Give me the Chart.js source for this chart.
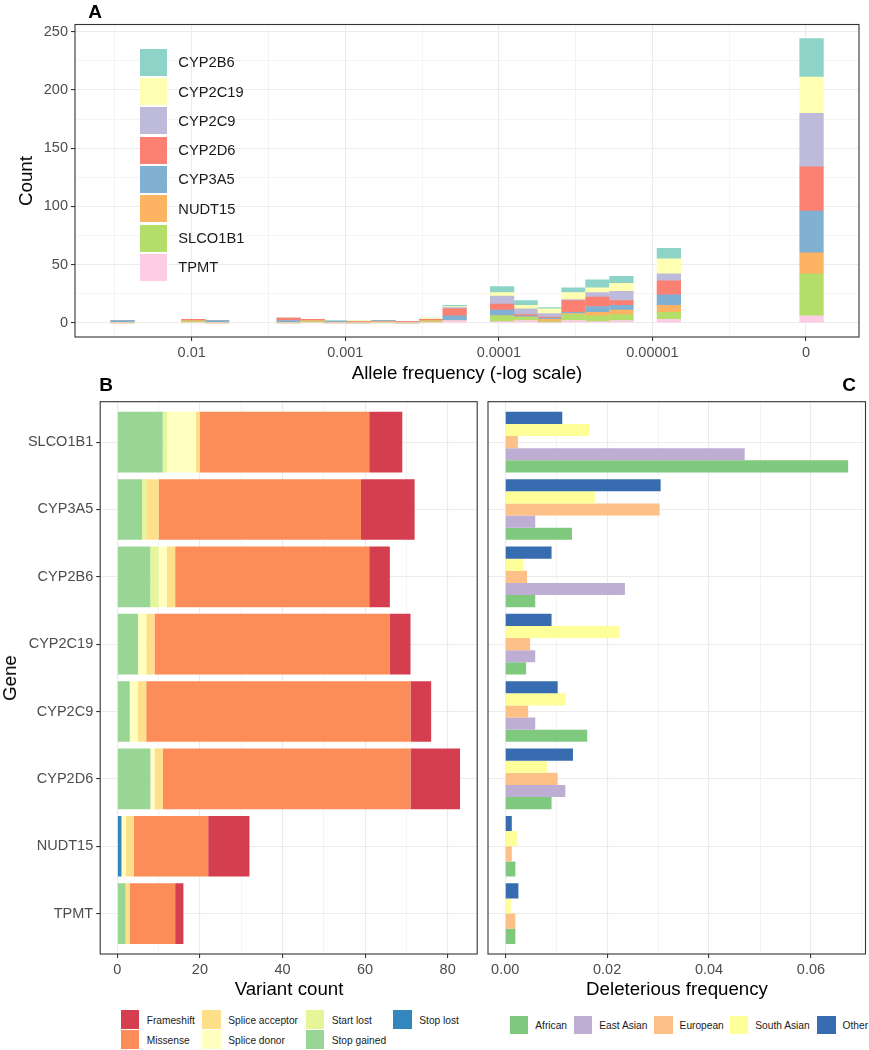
<!DOCTYPE html>
<html>
<head>
<meta charset="utf-8">
<script src="https://cdn.jsdelivr.net/npm/chart.js@4.4.1/dist/chart.umd.min.js"></script>
<style>
body { margin: 0; background: #fff; font-family: "Liberation Sans", Arial, Helvetica, sans-serif; }
#page { position: relative; width: 869px; height: 1050px; overflow: hidden; }
canvas { position: absolute; }
.lbl { position: absolute; white-space: nowrap; color: #000; transform: translate(-50%, -50%); }
.rot { transform: translate(-50%, -50%) rotate(-90deg); }
.letter { font-weight: bold; font-size: 19px; }
.title { font-size: 18.7px; }
.key { position: absolute; }
.ktxt { position: absolute; white-space: nowrap; color: #1a1a1a; transform: translateY(-50%); }
</style>
</head>
<body>
<div id="page">
  <canvas id="histA" width="869" height="365" style="left:0;top:0"></canvas>
  <canvas id="barB" width="485" height="600" style="left:0;top:390px"></canvas>
  <canvas id="barC" width="389" height="600" style="left:480px;top:390px"></canvas>

  <div class="lbl letter" style="left:95px;top:12px">A</div>
  <div class="lbl letter" style="left:106px;top:385px">B</div>
  <div class="lbl letter" style="left:849px;top:385px">C</div>

  <div class="lbl title rot" style="left:26px;top:181px">Count</div>
  <div class="lbl title" style="left:467px;top:373px">Allele frequency (-log scale)</div>
  <div class="lbl title rot" style="left:10px;top:678px">Gene</div>
  <div class="lbl title" style="left:289px;top:989px">Variant count</div>
  <div class="lbl title" style="left:677px;top:989px">Deleterious frequency</div>

  <div id="legA"></div>
  <div id="legB"></div>
  <div id="legC"></div>
</div>
<script>
// ---------- panel A: counts per allele-frequency bin (-log10 scale) ----------
const binCenters = [1.549, 2.010, 2.165, 2.631, 2.787, 2.936, 3.089, 3.248, 3.405, 3.559,
                    3.712, 4.021, 4.174, 4.330, 4.486, 4.642, 4.798, 5.107, 6.036]
const freqTickValues = [2, 3, 4, 5, 6]
const freqTickLabels = ['0.01', '0.001', '0.0001', '0.00001', '0']
const countTicks = [0, 50, 100, 150, 200, 250]

const histTPMT    = [0, 0, 0, 0, 0, 0, 0, 0, 0, 0, 2, 1, 2, 0, 2, 1, 2, 3, 6]
const histSLCO1B1 = [0, 1, 0, 0, 1, 0, 0, 0, 0, 1, 0, 5, 3, 1, 5, 5, 5, 6, 36]
const histNUDT15  = [0, 1, 0, 0, 1, 0, 0, 1, 0, 1, 0, 0, 0, 2, 1, 3, 4, 6, 18]
const histCYP3A5  = [2, 0, 2, 2, 0, 1, 0, 1, 0, 0, 4, 5, 1, 1, 1, 5, 4, 9, 36]
const histCYP2D6  = [0, 1, 0, 2, 1, 0, 1, 0, 1, 1, 6, 5, 1, 1, 10, 8, 4, 12, 38]
const histCYP2C9  = [0, 0, 0, 0, 0, 0, 0, 0, 0, 0, 1, 7, 5, 3, 1, 4, 8, 6, 46]
const histCYP2C19 = [0, 0, 0, 0, 0, 0, 1, 0, 0, 1, 1, 3, 3, 4, 6, 4, 7, 13, 31]
const histCYP2B6  = [0, 0, 0, 0, 0, 1, 0, 0, 0, 0, 1, 5, 4, 1, 4, 7, 6, 9, 33]

// ---------- panel B: variant count by consequence ----------
const genes = ['SLCO1B1', 'CYP3A5', 'CYP2B6', 'CYP2C19', 'CYP2C9', 'CYP2D6', 'NUDT15', 'TPMT']
const variantTicks = [0, 20, 40, 60, 80]

const stopLost       = [0, 0, 0, 0, 0, 0, 1, 0]
const stopGained     = [11, 6, 8, 5, 3, 8, 0, 2]
const startLost      = [1, 1, 2, 0, 0, 0, 0, 0]
const spliceDonor    = [7, 0, 2, 2, 2, 1, 1, 0]
const spliceAcceptor = [1, 3, 2, 2, 2, 2, 2, 1]
const missense       = [41, 49, 47, 57, 64, 60, 18, 11]
const frameshift     = [8, 13, 5, 5, 5, 12, 10, 2]

// ---------- panel C: deleterious frequency by population ----------
const delTicks = [0, 0.02, 0.04, 0.06]
const delTickLabels = ['0.00', '0.02', '0.04', '0.06']

const freqOther      = [0.0112, 0.0305, 0.0091, 0.0091, 0.0103, 0.0133, 0.0013, 0.0026]
const freqSouthAsian = [0.0165, 0.0176, 0.0035, 0.0224, 0.0118, 0.0082, 0.0023, 0.0011]
const freqEuropean   = [0.0025, 0.0303, 0.0043, 0.0049, 0.0045, 0.0103, 0.0013, 0.0020]
const freqEastAsian  = [0.0470, 0.0059, 0.0235, 0.0059, 0.0059, 0.0118, null, null]
const freqAfrican    = [0.0673, 0.0131, 0.0059, 0.0041, 0.0161, 0.0091, 0.0020, 0.0020]

//--------------------------------------------------------------------------

Chart.defaults.font.family = '"Liberation Sans", Arial, Helvetica, sans-serif'
Chart.defaults.color = '#4D4D4D'

const GRID = '#EBEBEB'
const AXIS = '#333333'
const near = (a, b) => Math.abs(a - b) < 1e-9

const panelBorder = {
    id: 'panelBorder',
    afterDraw(chart) {
        const a = chart.chartArea
        const ctx = chart.ctx
        ctx.save()
        ctx.strokeStyle = AXIS
        ctx.lineWidth = 1.1
        ctx.strokeRect(a.left, a.top, a.right - a.left, a.bottom - a.top)
        ctx.restore()
    }
}

const makeAxis = (o) => ({
    type: 'linear',
    min: o.min,
    max: o.max,
    offset: false,
    stacked: !!o.stacked,
    afterBuildTicks: s => { s.ticks = o.grid.map(v => ({ value: v })) },
    afterFit: s => {
        if (o.width !== undefined) s.width = o.width
        if (o.height !== undefined) s.height = o.height
    },
    ticks: {
        display: o.labels !== false,
        autoSkip: false,
        maxRotation: 0,
        padding: 3,
        color: '#4D4D4D',
        font: { size: 14.5 },
        callback: v => o.label ? o.label(v) : ''
    },
    grid: {
        offset: false,
        color: GRID,
        lineWidth: c => (c.tick && o.major(c.tick.value)) ? 1.1 : 0.55,
        drawTicks: o.drawTicks !== false,
        tickLength: 4,
        tickWidth: 1.1,
        tickColor: c => (c.tick && o.major(c.tick.value)) ? AXIS : 'rgba(0,0,0,0)'
    },
    border: { display: false }
})

const baseOptions = (padding, scales) => ({
    responsive: false,
    animation: false,
    devicePixelRatio: 1,
    layout: { padding: padding, autoPadding: false },
    plugins: { legend: { display: false }, tooltip: { enabled: false } },
    scales: scales
})

// ---------- chart A ----------
const geneColors = {
    CYP2B6: '#8DD3C7', CYP2C19: '#FFFFB3', CYP2C9: '#BEBADA', CYP2D6: '#FB8072',
    CYP3A5: '#80B1D3', NUDT15: '#FDB462', SLCO1B1: '#B3DE69', TPMT: '#FCCDE5'
}
const histSeries = [
    ['TPMT', histTPMT], ['SLCO1B1', histSLCO1B1], ['NUDT15', histNUDT15], ['CYP3A5', histCYP3A5],
    ['CYP2D6', histCYP2D6], ['CYP2C9', histCYP2C9], ['CYP2C19', histCYP2C19], ['CYP2B6', histCYP2B6]
]

const chartA = new Chart(document.querySelector('#histA'), {
    type: 'bar',
    data: {
        datasets: histSeries.map(([name, counts]) => ({
            label: name,
            data: binCenters.map((c, i) => ({ x: c, y: counts[i] })),
            backgroundColor: geneColors[name],
            borderWidth: 0,
            barThickness: 23.6
        }))
    },
    options: baseOptions({ top: 24.5, right: 10, left: 0, bottom: 0 }, {
        x: makeAxis({
            min: 1.24, max: 6.345, stacked: true, height: 28,
            grid: [1.5, 2, 2.5, 3, 3.5, 4, 4.5, 5, 5.5, 6],
            major: v => Number.isInteger(v),
            label: v => {
                const i = freqTickValues.findIndex(t => near(t, v))
                return i < 0 ? '' : freqTickLabels[i]
            }
        }),
        y: makeAxis({
            min: -12.2, max: 256.2, stacked: true, width: 75,
            grid: [0, 25, 50, 75, 100, 125, 150, 175, 200, 225, 250],
            major: v => v % 50 === 0,
            label: v => countTicks.includes(v) ? String(v) : ''
        })
    }),
    plugins: [panelBorder]
})

// ---------- chart B ----------
const consequenceSeries = [
    ['Stop lost', stopLost, '#3288BD'],
    ['Stop gained', stopGained, '#99D594'],
    ['Start lost', startLost, '#E6F598'],
    ['Splice donor', spliceDonor, '#FFFFBF'],
    ['Splice acceptor', spliceAcceptor, '#FEE08B'],
    ['Missense', missense, '#FC8D59'],
    ['Frameshift', frameshift, '#D53E4F']
]
const geneIndex = i => genes.length - 1 - i

const chartB = new Chart(document.querySelector('#barB'), {
    type: 'bar',
    data: {
        datasets: consequenceSeries.map(([name, vals, col]) => ({
            label: name,
            data: vals.map((v, i) => ({ x: v, y: geneIndex(i) })),
            backgroundColor: col,
            borderWidth: 0,
            categoryPercentage: 0.9,
            barPercentage: 1
        }))
    },
    options: Object.assign(baseOptions({ top: 11.7, right: 7.8, left: 0, bottom: 0 }, {
        x: makeAxis({
            min: -4.15, max: 87.15, stacked: true, height: 36,
            grid: [0, 10, 20, 30, 40, 50, 60, 70, 80],
            major: v => v % 20 === 0,
            label: v => variantTicks.includes(v) ? String(v) : ''
        }),
        y: makeAxis({
            min: -0.6, max: 7.6, stacked: true, width: 100.2,
            grid: [0, 1, 2, 3, 4, 5, 6, 7],
            major: v => true,
            label: v => genes[geneIndex(v)]
        })
    }), { indexAxis: 'y' }),
    plugins: [panelBorder]
})

// ---------- chart C ----------
const popSeries = [
    ['Other', freqOther, '#386CB0'],
    ['South Asian', freqSouthAsian, '#FFFF99'],
    ['European', freqEuropean, '#FDC086'],
    ['East Asian', freqEastAsian, '#BEAED4'],
    ['African', freqAfrican, '#7FC97F']
]

const chartC = new Chart(document.querySelector('#barC'), {
    type: 'bar',
    data: {
        datasets: popSeries.map(([name, vals, col]) => ({
            label: name,
            data: vals.map((v, i) => ({ x: v, y: geneIndex(i) })),
            backgroundColor: col,
            borderWidth: 0,
            categoryPercentage: 0.9,
            barPercentage: 1,
            skipNull: true
        }))
    },
    options: Object.assign(baseOptions({ top: 11.7, right: 3.5, left: 0, bottom: 0 }, {
        x: makeAxis({
            min: -0.00337, max: 0.0707, height: 36,
            grid: [0, 0.01, 0.02, 0.03, 0.04, 0.05, 0.06, 0.07],
            major: v => delTicks.some(t => near(t, v)),
            label: v => {
                const i = delTicks.findIndex(t => near(t, v))
                return i < 0 ? '' : delTickLabels[i]
            }
        }),
        y: makeAxis({
            min: -0.6, max: 7.6, width: 8, labels: false, drawTicks: false,
            grid: [0, 1, 2, 3, 4, 5, 6, 7],
            major: v => true
        })
    }), { indexAxis: 'y' }),
    plugins: [panelBorder]
})

//--------------------------------------------------------------------------
// legends (html)

const addKey = (parent, x, y, w, h, color, text, tx, size) => {
    const k = document.createElement('div')
    k.className = 'key'
    k.style.cssText = `left:${x}px;top:${y}px;width:${w}px;height:${h}px;background:${color}`
    parent.appendChild(k)
    const t = document.createElement('div')
    t.className = 'ktxt'
    t.style.cssText = `left:${tx}px;top:${y + h / 2}px;font-size:${size}px`
    t.textContent = text
    parent.appendChild(t)
}

const legA = document.querySelector('#legA')
const legendAOrder = ['CYP2B6', 'CYP2C19', 'CYP2C9', 'CYP2D6', 'CYP3A5', 'NUDT15', 'SLCO1B1', 'TPMT']
legendAOrder.forEach((g, i) => {
    addKey(legA, 140, 48.7 + i * 29.3, 27, 27, geneColors[g], g, 178.3, 14.7)
})

const legB = document.querySelector('#legB')
const legendBOrder = ['Frameshift', 'Missense', 'Splice acceptor', 'Splice donor', 'Start lost', 'Stop gained', 'Stop lost']
const legBColX = [120.7, 202.3, 305.7, 393.3]
legendBOrder.forEach((name, i) => {
    const col = Math.floor(i / 2)
    const row = i % 2
    const color = consequenceSeries.find(s => s[0] === name)[2]
    addKey(legB, legBColX[col], 1010 + row * 20, 18.5, 19, color, name, legBColX[col] + 26, 10.2)
})

const legC = document.querySelector('#legC')
const legendCOrder = ['African', 'East Asian', 'European', 'South Asian', 'Other']
const legCX = [510, 574, 654.3, 730, 817.3]
legendCOrder.forEach((name, i) => {
    const color = popSeries.find(s => s[0] === name)[2]
    addKey(legC, legCX[i], 1015.7, 18.3, 18.3, color, name, legCX[i] + 25.3, 10.2)
})
</script>
</body>
</html>
